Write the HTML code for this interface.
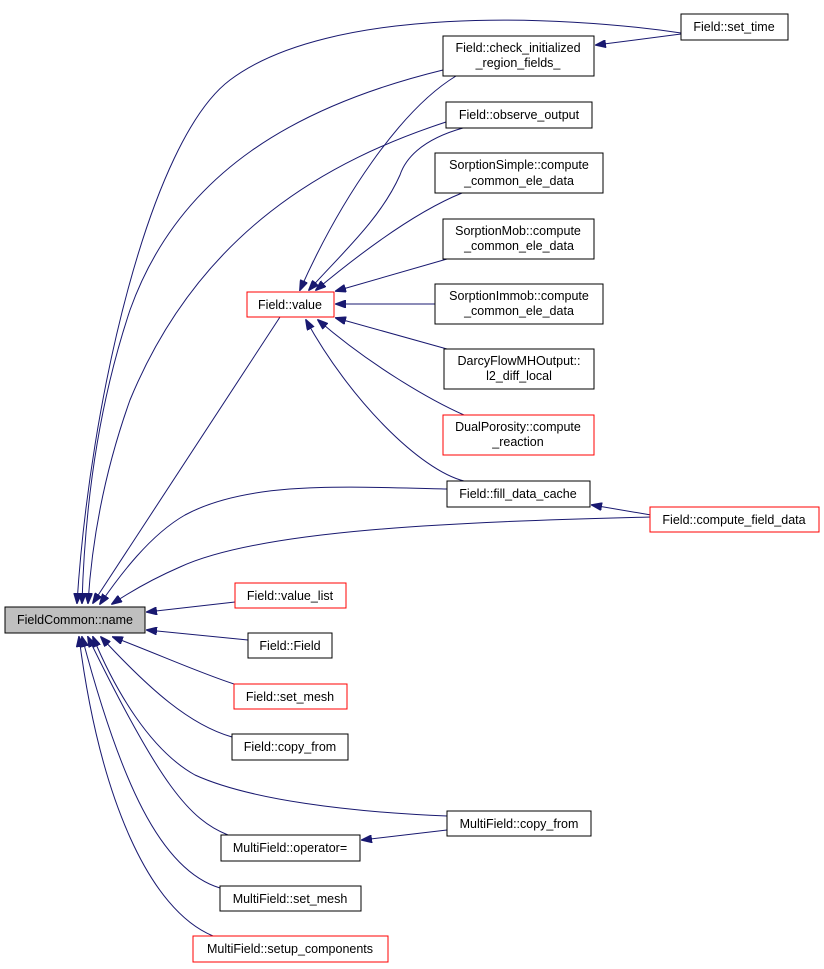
<!DOCTYPE html>
<html><head><meta charset="utf-8"><style>
html,body{margin:0;padding:0;background:#fff;}
svg{display:block;}
text{font-family:"Liberation Sans",sans-serif;font-size:12.5px;fill:#000;}
.e{fill:none;stroke:#191970;stroke-width:1;}
.n{fill:#fff;stroke:#000;stroke-width:1;}
.r{fill:#fff;stroke:#ff0000;stroke-width:1;}
</style></head><body>
<svg width="824" height="969" viewBox="0 0 824 969" xmlns="http://www.w3.org/2000/svg">
<defs>
<marker id="a" markerWidth="11" markerHeight="8" refX="10" refY="4" orient="auto" markerUnits="userSpaceOnUse">
<path d="M0,0 L11,4 L0,8 Z" fill="#191970" stroke="#191970"/>
</marker>
</defs>
<g class="e" marker-end="url(#a)">
<path d="M681,33 C560,15 330,5 230,80 C150,140 90,400 77,603"/>
<path d="M443,70 C300,105 180,170 130,310 C100,400 85,500 82,603"/>
<path d="M446,122 C330,160 200,230 130,400 C105,470 92,540 88,603"/>
<path d="M280,317 L93,603"/>
<path d="M447,489 C350,487 250,480 185,515 C150,535 120,575 100,604"/>
<path d="M651,517 C450,522 260,530 180,567 C150,580 130,592 112,604"/>
<path d="M235,602 L147,612"/>
<path d="M248,640 L147,630"/>
<path d="M234,684 C200,673 160,655 113,637"/>
<path d="M232,737 C190,725 150,690 101,637"/>
<path d="M447,816 C350,812 250,800 195,775 C150,750 115,690 93,637"/>
<path d="M228,835 C190,820 160,785 88,637"/>
<path d="M220,888 C160,870 120,780 82,637"/>
<path d="M213,936 C150,910 100,800 79,637"/>
<path d="M456,76 C400,110 340,200 300,290"/>
<path d="M463,128 C420,140 405,160 400,175 C380,220 340,255 309,290"/>
<path d="M462,193 C420,210 370,245 316,290"/>
<path d="M447,259 L336,291"/>
<path d="M435,304 L336,304"/>
<path d="M447,349 L336,318"/>
<path d="M464,415 C430,400 370,365 318,320"/>
<path d="M464,481 C420,470 350,400 306,320"/>
<path d="M681,34 L596,45"/>
<path d="M651,515 L592,505"/>
<path d="M447,830 L362,840"/>
</g>
<rect x="5" y="607" width="140" height="26" fill="#bfbfbf" stroke="#000"/>
<text x="75" y="624" text-anchor="middle">FieldCommon::name</text>
<rect class="r" x="247" y="292" width="87" height="25"/><text x="290" y="309" text-anchor="middle">Field::value</text>
<rect class="n" x="681" y="14" width="107" height="26"/><text x="734" y="31" text-anchor="middle">Field::set_time</text>
<rect class="n" x="443" y="36" width="151" height="40"/><text x="518" y="52" text-anchor="middle">Field::check_initialized</text><text x="518" y="67" text-anchor="middle">_region_fields_</text>
<rect class="n" x="446" y="102" width="146" height="26"/><text x="519" y="119" text-anchor="middle">Field::observe_output</text>
<rect class="n" x="435" y="153" width="168" height="40"/><text x="519" y="169" text-anchor="middle">SorptionSimple::compute</text><text x="519" y="185" text-anchor="middle">_common_ele_data</text>
<rect class="n" x="443" y="219" width="151" height="40"/><text x="518" y="235" text-anchor="middle">SorptionMob::compute</text><text x="519" y="250" text-anchor="middle">_common_ele_data</text>
<rect class="n" x="435" y="284" width="168" height="40"/><text x="519" y="300" text-anchor="middle">SorptionImmob::compute</text><text x="519" y="315" text-anchor="middle">_common_ele_data</text>
<rect class="n" x="444" y="349" width="150" height="40"/><text x="519" y="365" text-anchor="middle">DarcyFlowMHOutput::</text><text x="519" y="380" text-anchor="middle">l2_diff_local</text>
<rect class="r" x="443" y="415" width="151" height="40"/><text x="518" y="431" text-anchor="middle">DualPorosity::compute</text><text x="518" y="446" text-anchor="middle">_reaction</text>
<rect class="n" x="447" y="481" width="143" height="26"/><text x="518" y="498" text-anchor="middle">Field::fill_data_cache</text>
<rect class="r" x="650" y="507" width="169" height="25"/><text x="734" y="524" text-anchor="middle">Field::compute_field_data</text>
<rect class="r" x="235" y="583" width="111" height="25"/><text x="290" y="600" text-anchor="middle">Field::value_list</text>
<rect class="n" x="248" y="633" width="84" height="25"/><text x="290" y="650" text-anchor="middle">Field::Field</text>
<rect class="r" x="234" y="684" width="113" height="25"/><text x="290" y="701" text-anchor="middle">Field::set_mesh</text>
<rect class="n" x="232" y="734" width="116" height="26"/><text x="290" y="751" text-anchor="middle">Field::copy_from</text>
<rect class="n" x="447" y="811" width="144" height="25"/><text x="519" y="828" text-anchor="middle">MultiField::copy_from</text>
<rect class="n" x="221" y="835" width="139" height="26"/><text x="290" y="852" text-anchor="middle">MultiField::operator=</text>
<rect class="n" x="220" y="886" width="141" height="25"/><text x="290" y="903" text-anchor="middle">MultiField::set_mesh</text>
<rect class="r" x="193" y="936" width="195" height="26"/><text x="290" y="953" text-anchor="middle">MultiField::setup_components</text>
</svg>
</body></html>
